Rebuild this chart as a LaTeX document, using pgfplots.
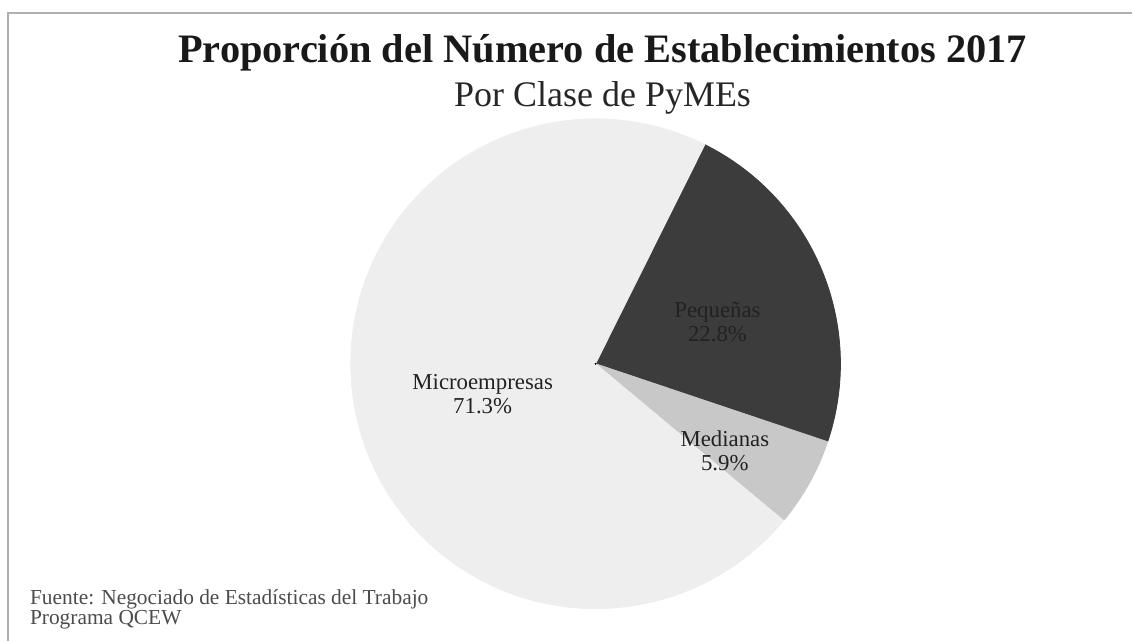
\documentclass[border=0pt]{standalone}
\usepackage{fontspec}
\setmainfont{Liberation Serif}
\usepackage{pgfplots}
\usepackage{pgfplotstable}
\pgfplotsset{compat=1.18}

\definecolor{txtcol}{HTML}{222222}
\definecolor{framecol}{HTML}{B0B0B0}

% share of establishments (%), slice grey level, label angle and radius (px)
\pgfplotstableread{
label pct grey la lr
Pequeñas 22.8 0.235 19 129
Medianas 5.9 0.784 -34 156
Microempresas 71.3 0.933 195 117
}\piedata
\pgfplotstablecreatecol[expr accum={\pgfmathaccuma + \thisrow{pct}}{0}]{cum}{\piedata}

\begin{document}
\begin{tikzpicture}
\begin{axis}[
  scale only axis,
  width=566.5pt, height=320.5pt,
  xmin=0, xmax=1133, ymin=0, ymax=641,
  y dir=reverse,
  hide axis,
  clip=false,
]
\fill[white] (axis cs:0,0) rectangle (axis cs:1133,641);
\draw[framecol, line width=0.8pt] (axis cs:8,641) -- (axis cs:8,13) -- (axis cs:1133,13);

% pie slices, clockwise from 63.5 deg
\addplot[
  scatter, only marks, mark=*, mark size=0.1pt,
  mark options={draw=none, fill=none},
  visualization depends on={\thisrow{pct} \as \pct},
  visualization depends on={\thisrow{cum} \as \cum},
  visualization depends on={\thisrow{grey} \as \sgrey},
  scatter/@pre marker code/.code={%
    \pgfmathsetmacro\sa{63.5-3.6*(\cum-\pct)}%
    \pgfmathsetmacro\da{3.6*\pct}%
    \definecolor{slicecol}{gray}{\sgrey}%
    \fill[slicecol] (0pt,0pt) -- (\sa:122.5pt) arc[start angle=\sa, delta angle=-\da, radius=122.5pt] -- cycle;
  },
  scatter/@post marker code/.code={},
] table[x expr=596, y expr=364] {\piedata};

% slice labels on top
\addplot[
  scatter, only marks, mark=*, mark size=0.1pt,
  mark options={draw=none, fill=none},
  point meta=explicit symbolic,
  visualization depends on={\thisrow{pct} \as \pct},
  visualization depends on={\thisrow{la} \as \sla},
  visualization depends on={\thisrow{lr} \as \slr},
  scatter/@pre marker code/.code={},
  scatter/@post marker code/.code={%
    \pgfmathsetmacro\mr{0.5*\slr}%
    \node[align=center, font=\fontsize{11.4}{11.8}\selectfont, text=txtcol]
      at (\sla:\mr pt) {\pgfplotspointmeta\\\pgfmathprintnumber[fixed,precision=1,fixed zerofill,assume math mode=true]{\pct}\%};
  },
] table[x expr=596, y expr=364, meta=label] {\piedata};

\node[anchor=base, font=\bfseries\fontsize{20.2}{24}\selectfont, text=black!90]
  at (axis cs:603,63) {Proporción del Número de Establecimientos 2017};
\node[anchor=base, font=\fontsize{18}{22}\selectfont, text=black!85]
  at (axis cs:603,107) {Por Clase de PyMEs};
\node[anchor=base west, align=left, font=\fontsize{10.7}{10.2}\selectfont, text=black!70]
  at (axis cs:23,625) {Fuente: Negociado de Estadísticas del Trabajo\\Programa QCEW};
\end{axis}
\end{tikzpicture}
\end{document}
